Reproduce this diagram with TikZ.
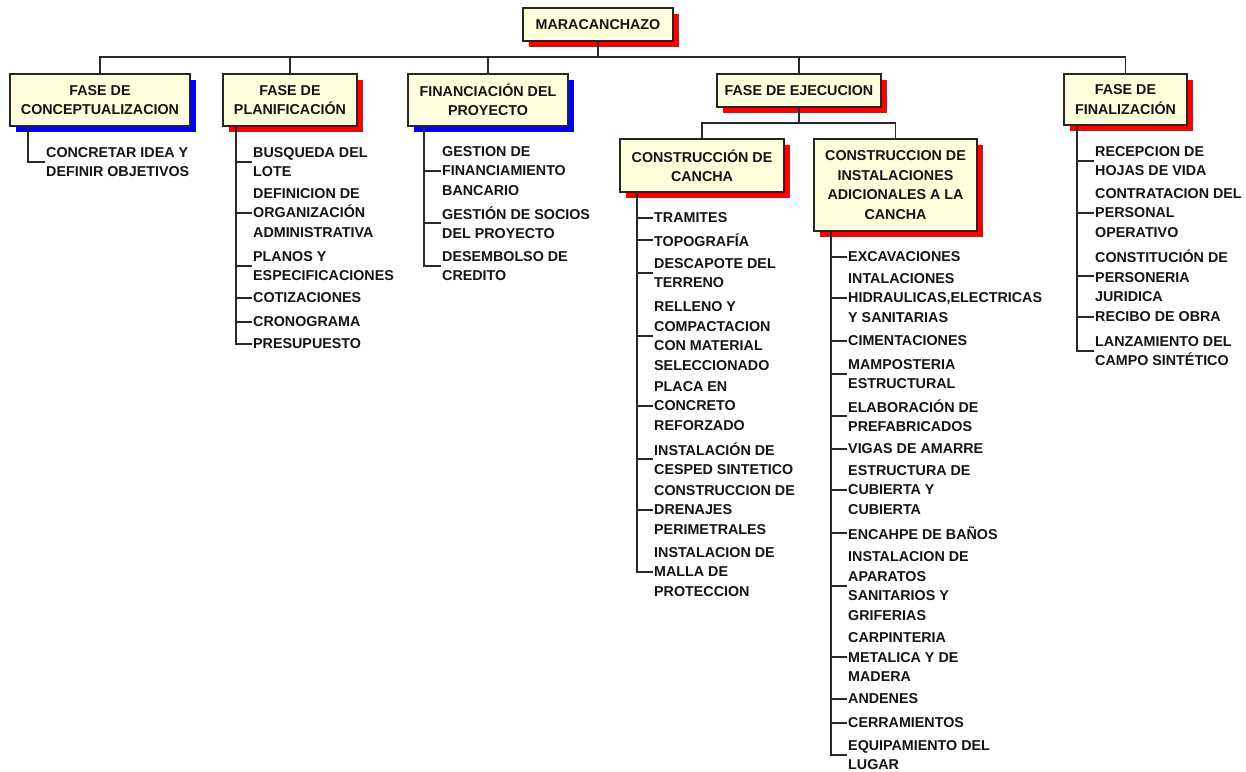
\documentclass[tikz,border=0pt]{standalone}
\usepackage{fontspec}
\setmainfont{Liberation Sans}
\usetikzlibrary{shadows}
\definecolor{cream}{RGB}{255,255,222}
\definecolor{wirecol}{RGB}{40,40,40}
\begin{document}
\begin{tikzpicture}[x=1pt,y=-1pt,
  every node/.style={font=\fontsize{14.3}{19.4}\selectfont\bfseries, text=black!92},
  box/.style={draw=black!85, line width=1.5pt, fill=cream, align=center, inner sep=0pt},
  redbox/.style={box, drop shadow={opacity=1, fill=red, shadow xshift=6pt, shadow yshift=-6pt}},
  bluebox/.style={box, drop shadow={opacity=1, fill=blue, shadow xshift=6pt, shadow yshift=-6pt}},
  leaf/.style={anchor=west, align=left, inner xsep=1.5pt, inner ysep=0pt},
  wire/.style={draw=wirecol, line width=1.6pt}]
\useasboundingbox[fill=white] (0,0) rectangle (1246,771);

% ---- boxes ----
\node[redbox, minimum width=150pt, minimum height=33pt] (root) at (598,24.5) {MARACANCHAZO};
\node[bluebox, minimum width=180pt, minimum height=52pt] (concep) at (100,100) {FASE DE\\CONCEPTUALIZACION};
\node[redbox, minimum width=134pt, minimum height=52pt] (plan) at (290,100) {FASE DE\\PLANIFICACIÓN};
\node[bluebox, minimum width=160pt, minimum height=52pt] (fin) at (488,100) {FINANCIACIÓN DEL\\PROYECTO};
\node[redbox, minimum width=164pt, minimum height=33pt] (ejec) at (799,90.5) {FASE DE EJECUCION};
\node[redbox, minimum width=123pt, minimum height=51pt] (final) at (1125.5,99.5) {FASE DE\\FINALIZACIÓN};
\node[redbox, minimum width=164pt, minimum height=53pt] (cancha) at (702,165.5) {CONSTRUCCIÓN DE\\CANCHA};
\node[redbox, minimum width=163pt, minimum height=92pt] (inst) at (895.5,185) {CONSTRUCCION DE\\INSTALACIONES\\ADICIONALES A LA\\CANCHA};

% ---- top-level bus ----
\coordinate (bus) at (598,57);
\draw[wire] (root.south) -- (bus);
\draw[wire] (concep.north) |- (bus) -| (final.north);
\draw[wire] (plan.north) -- (plan.north |- bus);
\draw[wire] (fin.north) -- (fin.north |- bus);
\draw[wire] (ejec.north) -- (ejec.north |- bus);

% ---- execution sub-bus ----
\coordinate (sub) at (799,123);
\draw[wire] (ejec.south) -- (sub);
\draw[wire] (cancha.north) |- (sub) -| (inst.north);

% ---- trunk tops ----
\coordinate (t1) at (28,126);
\coordinate (t2) at (236,126);
\coordinate (t3) at (424,126);
\coordinate (t4) at (637,192);
\coordinate (t5) at (831,231);
\coordinate (t6) at (1077,125);

% ---- conceptualizacion ----
\node[leaf] (a1) at (44.5,162) {CONCRETAR IDEA Y\\DEFINIR OBJETIVOS};
\draw[wire] (t1) |- (a1.west);

% ---- planificacion ----
\node[leaf] (p1) at (251.5,162) {BUSQUEDA DEL\\LOTE};
\node[leaf] (p2) at (251.5,213) {DEFINICION DE\\ORGANIZACIÓN\\ADMINISTRATIVA};
\node[leaf] (p3) at (251.5,266) {PLANOS Y\\ESPECIFICACIONES};
\node[leaf] (p4) at (251.5,298) {COTIZACIONES};
\node[leaf] (p5) at (251.5,322) {CRONOGRAMA};
\node[leaf] (p6) at (251.5,344) {PRESUPUESTO};
\foreach \n in {p1,p2,p3,p4,p5,p6} \draw[wire] (t2) |- (\n.west);

% ---- financiacion ----
\node[leaf] (f1) at (440.5,171) {GESTION DE\\FINANCIAMIENTO\\BANCARIO};
\node[leaf] (f2) at (440.5,223) {GESTIÓN DE SOCIOS\\DEL PROYECTO};
\node[leaf] (f3) at (440.5,266) {DESEMBOLSO DE\\CREDITO};
\foreach \n in {f1,f2,f3} \draw[wire] (t3) |- (\n.west);

% ---- construccion de cancha ----
\node[leaf] (c1) at (652.5,218) {TRAMITES};
\node[leaf] (c2) at (652.5,240) {TOPOGRAFÍA};
\node[leaf] (c3) at (652.5,273) {DESCAPOTE DEL\\TERRENO};
\node[leaf] (c4) at (652.5,336) {RELLENO Y\\COMPACTACION\\CON MATERIAL\\SELECCIONADO};
\node[leaf] (c5) at (652.5,406) {PLACA EN\\CONCRETO\\REFORZADO};
\node[leaf] (c6) at (652.5,459) {INSTALACIÓN DE\\CESPED SINTETICO};
\node[leaf] (c7) at (652.5,510) {CONSTRUCCION DE\\DRENAJES\\PERIMETRALES};
\node[leaf] (c8) at (652.5,572) {INSTALACION DE\\MALLA DE\\PROTECCION};
\foreach \n in {c1,c2,c3,c4,c5,c6,c7,c8} \draw[wire] (t4) |- (\n.west);

% ---- instalaciones adicionales ----
\node[leaf] (i1) at (846.5,257) {EXCAVACIONES};
\node[leaf] (i2) at (846.5,298) {INTALACIONES\\HIDRAULICAS,ELECTRICAS\\Y SANITARIAS};
\node[leaf] (i3) at (846.5,341) {CIMENTACIONES};
\node[leaf] (i4) at (846.5,374) {MAMPOSTERIA\\ESTRUCTURAL};
\node[leaf] (i5) at (846.5,416) {ELABORACIÓN DE\\PREFABRICADOS};
\node[leaf] (i6) at (846.5,449) {VIGAS DE AMARRE};
\node[leaf] (i7) at (846.5,490) {ESTRUCTURA DE\\CUBIERTA Y\\CUBIERTA};
\node[leaf] (i8) at (846.5,533) {ENCAHPE DE BAÑOS};
\node[leaf] (i9) at (846.5,586) {INSTALACION DE\\APARATOS\\SANITARIOS Y\\GRIFERIAS};
\node[leaf] (i10) at (846.5,657) {CARPINTERIA\\METALICA Y DE\\MADERA};
\node[leaf] (i11) at (846.5,699) {ANDENES};
\node[leaf] (i12) at (846.5,723) {CERRAMIENTOS};
\node[leaf] (i13) at (846.5,755) {EQUIPAMIENTO DEL\\LUGAR};
\foreach \n in {i1,i2,i3,i4,i5,i6,i7,i8,i9,i10,i11,i12,i13} \draw[wire] (t5) |- (\n.west);

% ---- finalizacion ----
\node[leaf] (n1) at (1093.5,161) {RECEPCION DE\\HOJAS DE VIDA};
\node[leaf] (n2) at (1093.5,213) {CONTRATACION DEL\\PERSONAL\\OPERATIVO};
\node[leaf] (n3) at (1093.5,276) {CONSTITUCIÓN DE\\PERSONERIA\\JURIDICA};
\node[leaf] (n4) at (1093.5,317) {RECIBO DE OBRA};
\node[leaf] (n5) at (1093.5,351) {LANZAMIENTO DEL\\CAMPO SINTÉTICO};
\foreach \n in {n1,n2,n3,n4,n5} \draw[wire] (t6) |- (\n.west);
\end{tikzpicture}
\end{document}
